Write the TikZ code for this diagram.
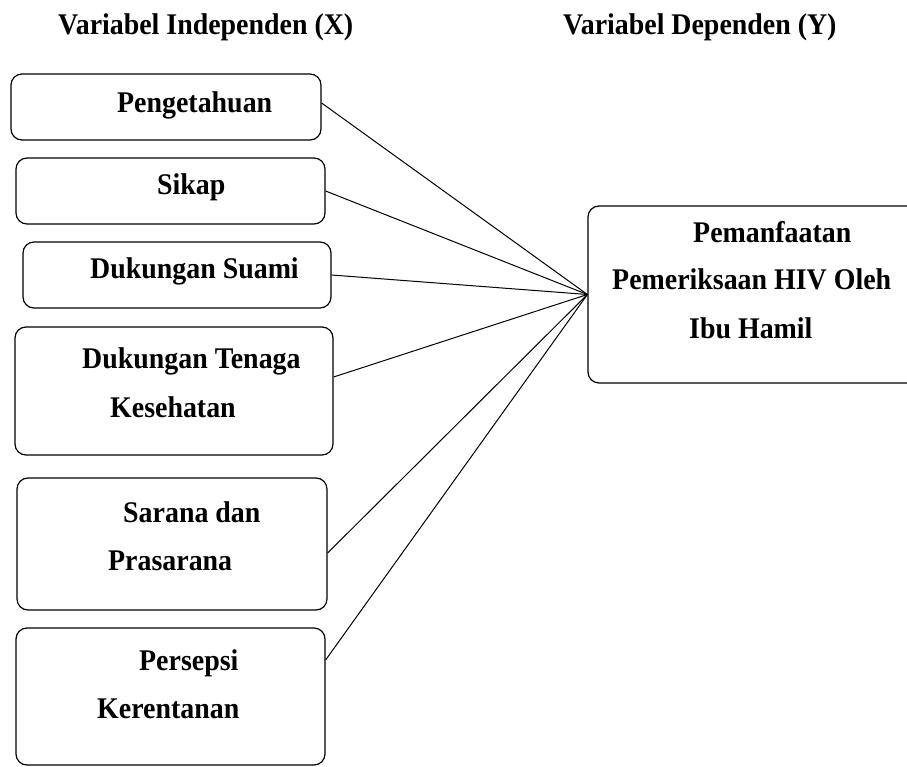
\documentclass[tikz,border=0pt]{standalone}
\usepackage{fontspec}
\setmainfont{Liberation Serif}[FakeStretch=0.93]
\usepackage{tikz}
\usetikzlibrary{calc}

\begin{document}
\begin{tikzpicture}[x=1pt,y=-1pt,
    box/.style={draw,line width=1.2pt,rounded corners=11pt,inner sep=0pt},
    txt/.style={anchor=base west,inner sep=0pt,font=\fontsize{30}{36}\selectfont\bfseries}]
      \useasboundingbox (0,0) rectangle (907,767);
      \clip (0,0) rectangle (907,767);

      \node[txt] (TX) at (58,35) {Variabel Independen (X)};
      \node[txt] (TY) at (563,35) {Variabel Dependen (Y)};

      \node[box,minimum width=310pt,minimum height=66pt] (X1) at (166,107) {};
      \node[box,minimum width=309pt,minimum height=66pt] (X2) at (170.5,191) {};
      \node[box,minimum width=308pt,minimum height=66pt] (X3) at (177,275) {};
      \node[box,minimum width=318pt,minimum height=128pt] (X4) at (174,391) {};
      \node[box,minimum width=310pt,minimum height=132pt] (X5) at (172,544) {};
      \node[box,minimum width=309pt,minimum height=137pt] (X6) at (170.5,696.5) {};
      \node[box,minimum width=342pt,minimum height=177pt] (Y) at (759,294.5) {};

      \node[txt] (x1a) at (117,113) {Pengetahuan};
      \node[txt] (x2a) at (157,195) {Sikap};
      \node[txt] (x3a) at (90,278) {Dukungan Suami};
      \node[txt] (x4a) at (82,368) {Dukungan Tenaga};
      \node[txt] (x4b) at (110,417) {Kesehatan};
      \node[txt] (x5a) at (123,522) {Sarana dan};
      \node[txt] (x5b) at (108,570) {Prasarana};
      \node[txt] (x6a) at (139,670) {Persepsi};
      \node[txt] (x6b) at (97,718) {Kerentanan};
      \node[txt] (ya) at (693,243) {Pemanfaatan};
      \node[txt] (yb) at (612,290) {Pemeriksaan HIV Oleh};
      \node[txt] (yc) at (689,338) {Ibu Hamil};

      \draw[line width=1pt] ([yshift=4pt]X1.east) to (Y.west);
      \draw[line width=1pt] (X2.east) to (Y.west);
      \draw[line width=1pt] (X3.east) to (Y.west);
      \draw[line width=1pt] ([yshift=14pt]X4.east) to (Y.west);
      \draw[line width=1pt] ([yshift=-9pt]X5.east) to (Y.west);
      \draw[line width=1pt] ([yshift=36.5pt]X6.east) to (Y.west);
    \end{tikzpicture}
\end{document}
